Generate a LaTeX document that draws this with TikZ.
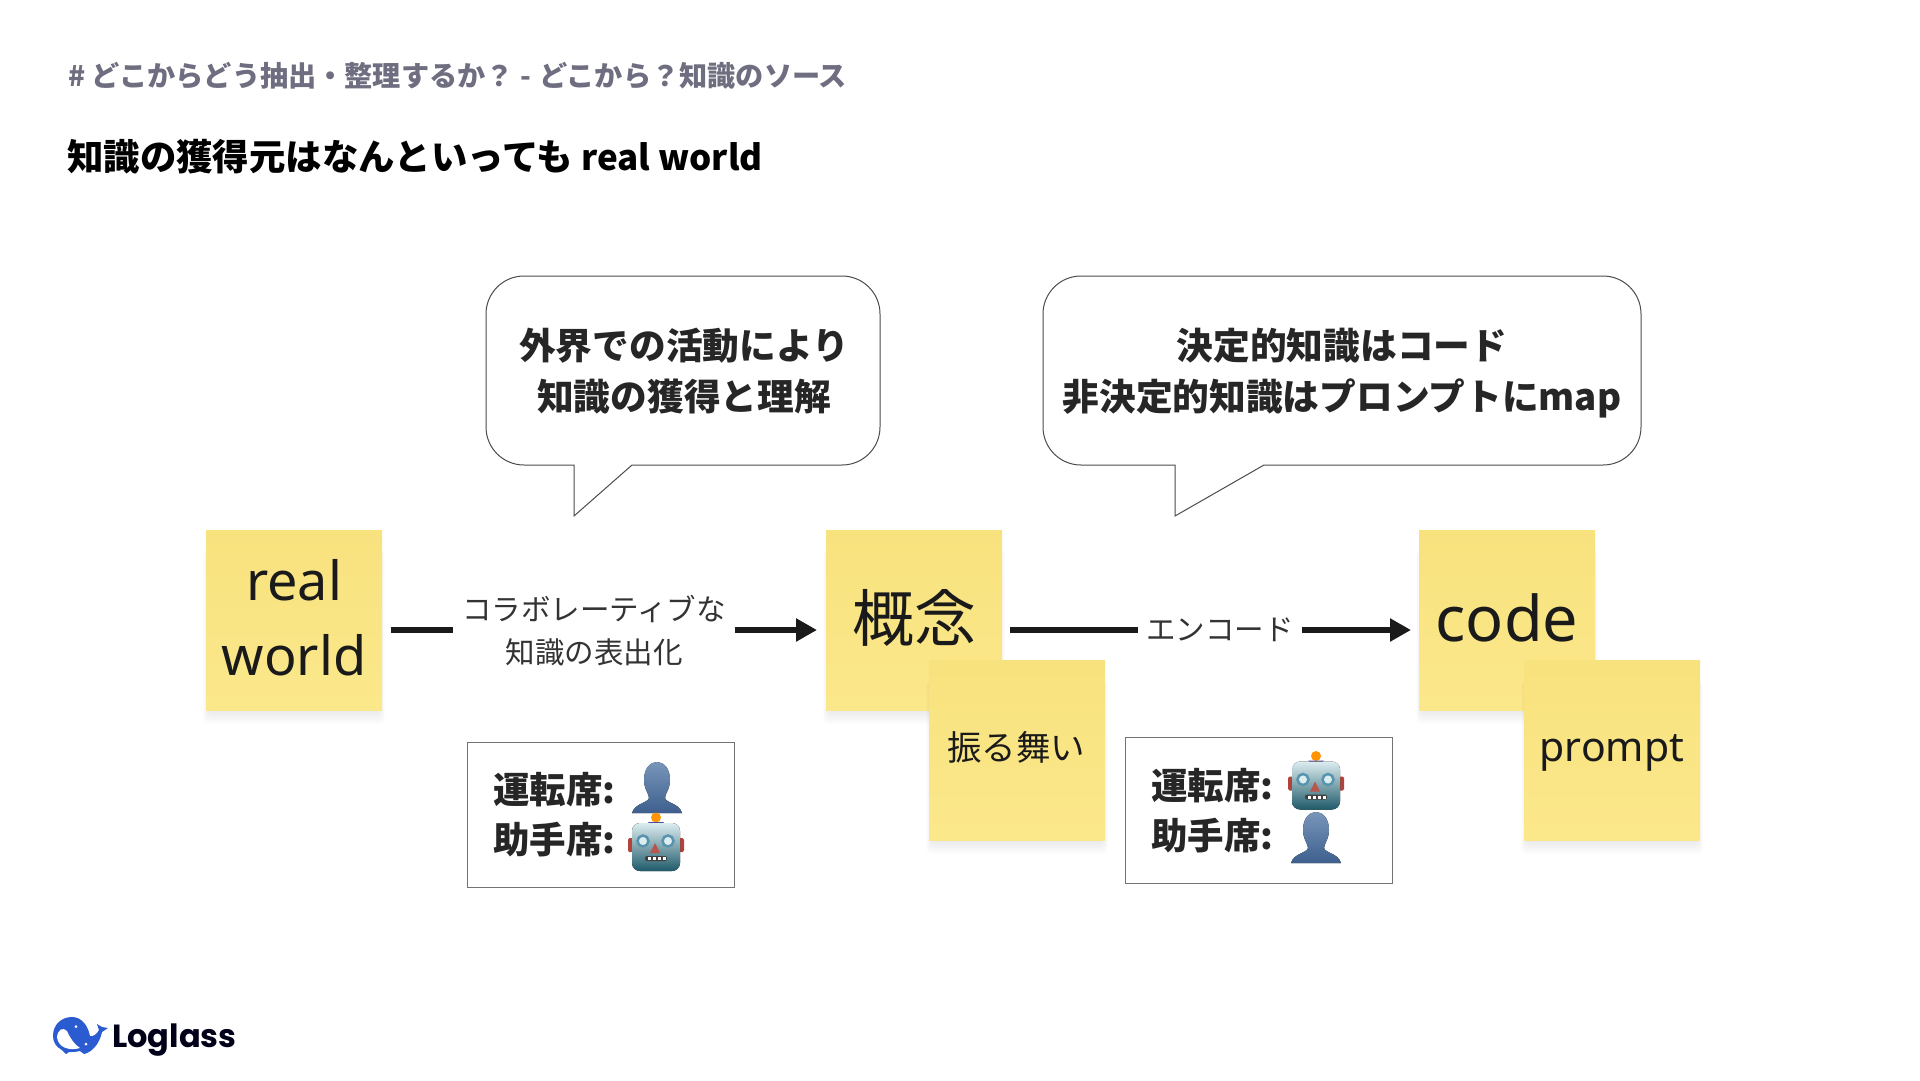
\documentclass[tikz,border=0pt]{standalone}
\usepackage{fontspec}
\usetikzlibrary{arrows.meta}
\setmainfont{Noto Sans CJK JP}
\newfontfamily\jpp{Noto Sans CJK JP}
\newfontfamily\opens{Noto Sans}
\newfontfamily\logof{Poppins}
\newcommand{\fsz}[1]{\fontsize{#1}{#1}\selectfont}
\definecolor{stickytop}{HTML}{F8E27E}
\definecolor{stickybot}{HTML}{FBE88B}
\definecolor{inkc}{HTML}{1A1A1A}
\definecolor{greyt}{HTML}{6E6E80}
\definecolor{whaleb}{HTML}{2A5BD0}
\definecolor{persontop}{HTML}{7F9CBF}
\definecolor{personbot}{HTML}{3E5F8E}
\definecolor{facetop}{HTML}{DCEDF0}
\definecolor{facemid}{HTML}{8FA9AE}
\definecolor{facebot}{HTML}{1F5A6A}
\definecolor{earc}{HTML}{B0433A}
\tikzset{
  x=1pt,y=-1pt,
  sticky/.style={draw=none,top color=stickytop,bottom color=stickybot,minimum width=176pt,minimum height=180pt,inner sep=0pt,anchor=north west},
  stickytext/.style={text=inkc,inner sep=0pt},
  bubble/.style={draw=black!70,line width=1pt,fill=white},
  bubbletext/.style={font=\jpp\bfseries\fsz{36.7},text=black!85,align=center,inner sep=0pt,text height=31pt,text depth=6pt},
  infobox/.style={draw=black!55,line width=1pt,fill=white,inner sep=0pt},
  infotext/.style={font=\jpp\bfseries\fsz{36.5},text=black!85,anchor=west,inner sep=0pt,text height=31pt,text depth=6pt},
  edgelabel/.style={font=\jpp\fsz{29.5},text=black!80,align=center,inner ysep=0pt},
  plainline/.style={line width=5.5pt,draw=inkc},
  arrowline/.style={line width=5.5pt,draw=inkc,-{Triangle[length=21pt,width=22pt]}},
  person/.pic={
    \fill[top color=persontop,bottom color=personbot] (-13,-9) .. controls (-13,-33) and (13,-33) .. (13,-9) .. controls (13,0) and (8,5) .. (8,9) .. controls (9,14) and (22,14) .. (25,24) -- (-25,24) .. controls (-22,14) and (-9,14) .. (-8,9) .. controls (-8,5) and (-13,0) .. (-13,-9) -- cycle;
  },
  robot/.pic={
    \fill[earc,rounded corners=1.5pt] (-28,-6) rectangle (-20,8);
    \fill[earc,rounded corners=1.5pt] (20,-6) rectangle (28,8);
    \fill[orange!85!yellow] (0,-26.5) circle (5);
    \fill[blue!45!black!70] (-8,-22) -- (8,-22) -- (4,-18) -- (-4,-18) -- cycle;
    \fill[rounded corners=8pt,top color=facetop,middle color=facemid,bottom color=facebot] (-24,-21) rectangle (24,27);
    \draw[cyan!60!black!85,line width=2.5pt,fill=facetop] (-13,-3) circle (5.5);
    \draw[cyan!60!black!85,line width=2.5pt,fill=facetop] (12,-3) circle (5.5);
    \fill[earc!90!white] (-1,-1) -- (4,9) -- (-6,9) -- cycle;
    \fill[black!75,rounded corners=2pt] (-11,12) rectangle (11,17);
    \foreach \u in {-8,-3,2,7} \fill[white] (\u,13) rectangle (\u+3,16);
  },
}
\newcommand{\softshadow}[4]{%
  \foreach \e in {0,2,...,14}{
    \fill[black,opacity=.012,rounded corners=5pt] (#1+3-\e*.4,#2+20) rectangle (#3-3+\e*.4,#4+\e);
  }}
\begin{document}
\begin{tikzpicture}
\useasboundingbox (0,0) rectangle (1920,1080);
\fill[white] (0,0) rectangle (1920,1080);

\node[anchor=west,inner sep=0pt,font=\jpp\bfseries\fsz{28.2},text=greyt] (hdr) at (68,76) {\# どこからどう抽出・整理するか？ -\hspace{8pt}どこから？知識のソース};
\node[anchor=west,inner sep=0pt,font=\jpp\bfseries\fsz{36.4},text=black] (ttl) at (67,156.5) {知識の獲得元はなんといっても {\fsz{35}real world}};

% bubbles
\draw[bubble] (574,465) -- (574,516) -- (632,465) [rounded corners=38pt] -- (880,465) -- (880,276) -- (486,276) -- (486,465) [sharp corners] -- cycle;
\draw[bubble] (1175,465) -- (1175,516) -- (1264,465) [rounded corners=38pt] -- (1641,465) -- (1641,276) -- (1043,276) -- (1043,465) [sharp corners] -- cycle;
\node[bubbletext] (b1a) at (684,347) {外界での活動により};
\node[bubbletext] (b1b) at (684,397.5) {知識の獲得と理解};
\node[bubbletext] (b2a) at (1342,347) {決定的知識はコード};
\node[bubbletext] (b2b) at (1342,397.5) {非決定的知識はプロンプトにmap};

% stickies
\softshadow{206}{530}{382}{710}
\softshadow{826}{530}{1002}{710}
\softshadow{1419}{530}{1595}{710}
\node[sticky] (real) at (206,530) {};
\node[stickytext,font=\opens\fsz{54}] (realt) at (294,580) {real};
\node[stickytext,font=\opens\fsz{54}] (worldt) at (294,655) {world};
\node[sticky] (gainen) at (826,530) {};
\node[stickytext,font=\jpp\fsz{62}] (gainent) at (914,617.5) {概念};
\node[sticky] (code) at (1419,530) {};
\node[stickytext,font=\opens\fsz{63}] (codet) at (1507,618) {code};
\softshadow{929}{660}{1105}{840}
\softshadow{1524}{660}{1700}{840}
\node[sticky] (furu) at (929,660) {};
\node[stickytext,font=\jpp\fsz{34.5}] (furut) at (1016,747) {振る舞い};
\node[sticky] (prompt) at (1524,660) {};
\node[stickytext,font=\opens\fsz{41}] (promptt) at (1612,753) {prompt};

% connectors
\coordinate (s1) at (391,630);
\coordinate (e1) at (817,630);
\coordinate (s2) at (1010,630);
\coordinate (e2) at (1411,630);
\node[edgelabel,inner xsep=9pt] (lab1) at (594,627) {\rule{0pt}{32pt}コラボレーティブな\\[14pt]知識の表出化};
\node[edgelabel,inner xsep=8pt] (lab2) at (1220,630) {エンコード};
\draw[plainline] (s1) -- (lab1.west |- s1);
\draw[arrowline] (lab1.east |- e1) -- (e1);
\draw[plainline] (s2) -- (lab2.west);
\draw[arrowline] (lab2.east) -- (e2);

% info boxes
\draw[infobox] (467,742) rectangle (734,887);
\node[infotext] (a1) at (493,790.5) {運転席:};
\node[infotext] (a2) at (493,841) {助手席:};
\pic at (657,789) {person};
\pic at (656,844) {robot};
\draw[infobox] (1125,737) rectangle (1392,883);
\node[infotext] (c1) at (1151,786.5) {運転席:};
\node[infotext] (c2) at (1151,837) {助手席:};
\pic at (1316,782.5) {robot};
\pic at (1316,839) {person};

% logo
\fill[whaleb] (53,1036) .. controls (53,1024) and (62,1017) .. (72,1017) .. controls (82,1017) and (88,1026) .. (90,1036) .. controls (93,1037) and (97,1034) .. (99,1030) -- (97,1024) -- (102,1027) -- (108,1028) -- (102,1032) .. controls (100,1042) and (94,1050) .. (87,1053) -- (84,1054) -- (80,1051) .. controls (76,1052) and (72,1052) .. (69,1052) -- (66,1054) -- (62,1050) .. controls (56,1047) and (53,1042) .. (53,1036) -- cycle;
\fill[white] (57,1037) .. controls (58,1029) and (63,1027) .. (67,1031) .. controls (70,1038) and (75,1045) .. (80,1048) .. controls (70,1051) and (58,1048) .. (57,1037) -- cycle;
\fill[white] (76,1026.5) circle (1.5);
\fill[white] (86,1044) circle (1.5);
\node[anchor=base west,inner sep=0pt,font=\logof\bfseries\fsz{32},text=black!90!blue] (logo) at (112,1047) {Loglass};
\end{tikzpicture}
\end{document}
